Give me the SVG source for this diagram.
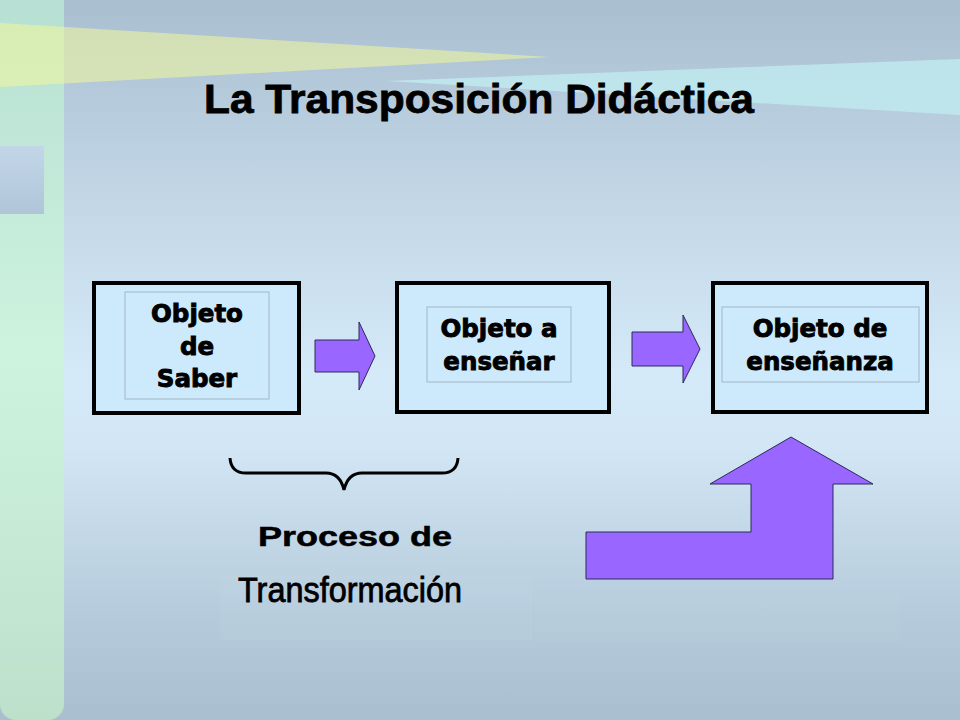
<svg xmlns="http://www.w3.org/2000/svg" width="960" height="720" viewBox="0 0 960 720">
<defs>
<linearGradient id="bg" x1="0" y1="0" x2="0" y2="1">
<stop offset="0" stop-color="#a9bfd0"/>
<stop offset="0.3" stop-color="#c4d8e8"/>
<stop offset="0.52" stop-color="#d5eaf9"/>
<stop offset="0.62" stop-color="#d2e6f5"/>
<stop offset="0.85" stop-color="#b6cbdb"/>
<stop offset="1" stop-color="#a9bfcf"/>
</linearGradient>
<linearGradient id="strip" x1="0" y1="0" x2="0" y2="1">
<stop offset="0" stop-color="#b6ded2"/>
<stop offset="0.5" stop-color="#cdf3de"/>
<stop offset="1" stop-color="#bde0cb"/>
</linearGradient>
<linearGradient id="sq" x1="0" y1="0" x2="0" y2="1">
<stop offset="0" stop-color="#c2d6e8"/>
<stop offset="1" stop-color="#b0c6d8"/>
</linearGradient>
<style>
.box{fill:#cde9fc;stroke:#000;stroke-width:4}
.inner{fill:#cde9fc;stroke:#a2b6c2;stroke-width:1}
.lbl{font-family:"DejaVu Sans","Liberation Sans",sans-serif;font-weight:bold;font-size:24.5px;fill:#000;stroke:#000;stroke-width:0.9;text-anchor:middle}
.arrow{fill:#9966ff;stroke:#2a2a5a;stroke-width:1}
</style>
</defs>
<rect x="0" y="0" width="960" height="720" fill="url(#bg)"/>
<rect x="0" y="-20" width="64" height="740" rx="16" fill="url(#strip)"/>
<rect x="0" y="146" width="44" height="68" fill="url(#sq)"/>
<polygon points="0,23 550,57 0,87" fill="#f2f79a" opacity="0.55"/>
<polygon points="960,59 386,81 960,115" fill="#bfe9ee" opacity="0.85"/>
<rect x="220" y="575" width="312" height="65" fill="#c9dbe8" opacity="0.15"/>
<rect x="535" y="594" width="365" height="48" fill="#c9dbe8" opacity="0.12"/>

<text x="479" y="113" font-family="'Liberation Sans',Arial,sans-serif" font-weight="bold" font-size="40" stroke="#000" stroke-width="0.8" text-anchor="middle" textLength="550" lengthAdjust="spacingAndGlyphs">La Transposición Didáctica</text>

<g id="node-saber">
<rect class="box" x="94" y="283" width="205" height="130"/>
<rect class="inner" x="125" y="292" width="144" height="107"/>
<text class="lbl" x="197" y="322">Objeto</text>
<text class="lbl" x="197" y="355">de</text>
<text class="lbl" x="197" y="387">Saber</text>
</g>
<g id="node-a-ensenar">
<rect class="box" x="397" y="283" width="212" height="129"/>
<rect class="inner" x="427" y="307" width="144" height="75"/>
<text class="lbl" x="499" y="337">Objeto a</text>
<text class="lbl" x="499" y="370">enseñar</text>
</g>
<g id="node-ensenanza">
<rect class="box" x="713" y="283" width="214" height="129"/>
<rect class="inner" x="722" y="307" width="197" height="75"/>
<text class="lbl" x="820" y="337">Objeto de</text>
<text class="lbl" x="820" y="370">enseñanza</text>
</g>

<g id="connectors">
<polygon class="arrow" points="315,340 359,340 359,322 375,356 359,390 359,372 315,372"/>
<polygon class="arrow" points="632,332 683,332 683,315 700,349 683,383 683,366 632,366"/>
<polygon class="arrow" points="586,579 586,532 751,532 751,484 710,484 791,437 873,484 833,484 833,579"/>
</g>

<g id="brace">
<path d="M230,458 Q231,473 246,473 L326,473 Q340,473 344,490 Q348,473 362,473 L442,473 Q457,473 458,458" fill="none" stroke="#000" stroke-width="3"/>
</g>
<g id="label-proceso">
<text x="355" y="546" font-family="'Liberation Sans',Arial,sans-serif" font-weight="bold" font-size="27" stroke="#000" stroke-width="0.5" text-anchor="middle" textLength="194" lengthAdjust="spacingAndGlyphs">Proceso de</text>
<text x="350" y="602" font-family="'Liberation Sans',Arial,sans-serif" font-size="35" text-anchor="middle" stroke="#000" stroke-width="0.8" textLength="224" lengthAdjust="spacingAndGlyphs">Transformación</text>
</g>
</svg>
